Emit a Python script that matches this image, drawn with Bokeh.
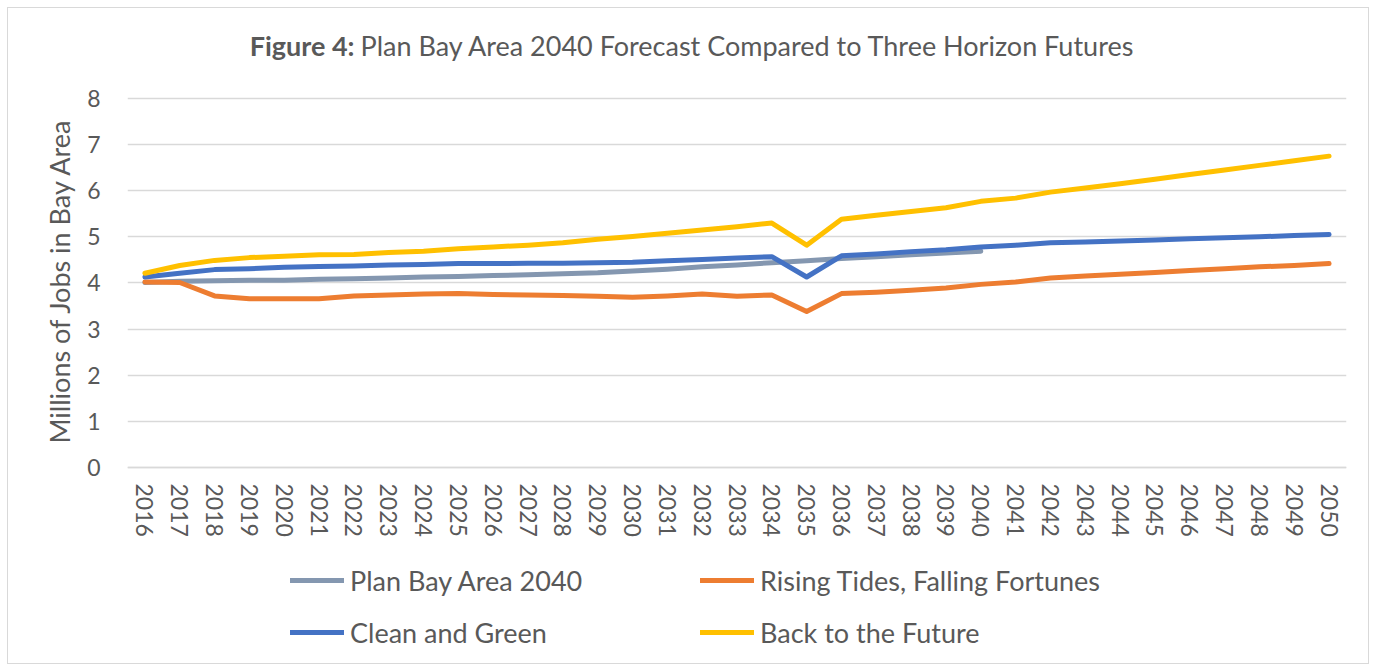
from bokeh.plotting import figure
from bokeh.models import Range1d, FactorRange, FixedTicker, Legend, LegendItem, Label, Title
from bokeh.embed import file_html
from bokeh.resources import INLINE

years = [str(y) for y in range(2016, 2051)]
plan_years = [str(y) for y in range(2016, 2041)]

plan_bay_area = [4.01, 4.04, 4.05, 4.06, 4.06, 4.08, 4.09, 4.11, 4.13, 4.14, 4.16, 4.18, 4.20,
                 4.22, 4.26, 4.30, 4.35, 4.39, 4.44, 4.48, 4.53, 4.57, 4.61, 4.65, 4.69]
rising_tides = [4.02, 4.01, 3.72, 3.66, 3.66, 3.66, 3.72, 3.74, 3.76, 3.77, 3.75, 3.74, 3.73,
                3.71, 3.69, 3.72, 3.76, 3.71, 3.74, 3.38, 3.77, 3.80, 3.84, 3.89, 3.97, 4.02,
                4.11, 4.15, 4.19, 4.23, 4.27, 4.31, 4.35, 4.38, 4.42]
clean_green = [4.13, 4.21, 4.29, 4.31, 4.34, 4.36, 4.37, 4.39, 4.40, 4.42, 4.42, 4.43, 4.43,
               4.44, 4.45, 4.48, 4.51, 4.54, 4.57, 4.13, 4.59, 4.63, 4.68, 4.72, 4.78, 4.82,
               4.87, 4.89, 4.91, 4.93, 4.96, 4.98, 5.00, 5.03, 5.05]
back_future = [4.21, 4.38, 4.49, 4.55, 4.58, 4.61, 4.62, 4.66, 4.69, 4.74, 4.78, 4.82, 4.87,
               4.95, 5.01, 5.08, 5.15, 5.22, 5.30, 4.82, 5.38, 5.47, 5.55, 5.63, 5.77, 5.84,
               5.97, 6.06, 6.15, 6.25, 6.35, 6.45, 6.55, 6.65, 6.75]
y_ticks = [0, 1, 2, 3, 4, 5, 6, 7, 8]

FONT = "Lato"
TXT = "#595959"
GRID = "#d9d9d9"

# The frame spans the whole figure height; the value axis 0..8 maps to the chart area,
# the rest of the frame holds the title (top) and the legend (bottom).
p = figure(width=1362, height=657, x_range=FactorRange(*years, range_padding=0),
           y_range=Range1d(-4.293, 9.951), output_backend="svg", toolbar_location=None, tools="",
           min_border_left=119, min_border_right=24, min_border_top=0, min_border_bottom=0)
p.title.visible = False
p.styles = {"border": "1px solid #d9d9d9", "margin-left": "7px", "margin-top": "7px"}
p.outline_line_color = None
p.background_fill_color = "white"
p.border_fill_color = "white"

kw = dict(line_width=5, line_cap="round", line_join="round")
r1 = p.line(plan_years, plan_bay_area, color="#8497B0", **kw)
r2 = p.line(years, rising_tides, color="#ED7D31", **kw)
r3 = p.line(years, clean_green, color="#4472C4", **kw)
r4 = p.line(years, back_future, color="#FFC000", **kw)

p.xgrid.grid_line_color = None
p.ygrid.grid_line_color = GRID
p.ygrid.grid_line_width = 1.5
p.yaxis.ticker = FixedTicker(ticks=y_ticks)

for ax in (p.xaxis[0], p.yaxis[0]):
    ax.major_tick_line_color = None
    ax.minor_tick_line_color = None
    ax.major_tick_out = 0
    ax.major_tick_in = 0
    ax.major_label_text_font = FONT
    ax.major_label_text_color = TXT
    ax.major_label_text_font_size = "23px"

p.yaxis.axis_line_color = None
p.yaxis.major_label_standoff = 27

p.xaxis.fixed_location = 0
p.xaxis.axis_line_color = GRID
p.xaxis.axis_line_width = 1.5
p.xaxis.major_label_orientation = "vertical"
p.xaxis.major_label_standoff = 16

# y-axis title, placed beside the 0..8 value band
p.add_layout(Title(text="Millions of Jobs in Bay Area", align="left", offset=222,
                   vertical_align="bottom", standoff=18, text_font=FONT,
                   text_font_size="27px", text_font_style="normal", text_color=TXT), "left")

# Chart title: bold "Figure 4:" followed by regular text
p.add_layout(Label(x=227, y=620, x_units="screen", y_units="screen", text="Figure 4:",
                   text_font=FONT, text_font_size="27px", text_font_style="bold",
                   text_color=TXT, text_align="right", text_baseline="middle"))
p.add_layout(Label(x=233, y=620, x_units="screen", y_units="screen",
                   text="Plan Bay Area 2040 Forecast Compared to Three Horizon Futures",
                   text_font=FONT, text_font_size="27px", text_color=TXT,
                   text_align="left", text_baseline="middle"))

def make_legend(items, x):
    lg = Legend(items=items, location=(x, 16), orientation="vertical",
                label_text_font=FONT, label_text_font_size="27px", label_text_color=TXT,
                glyph_width=54, glyph_height=34, label_height=34, label_standoff=6,
                spacing=18, padding=0, margin=0, border_line_color=None,
                background_fill_alpha=0)
    p.add_layout(lg, "center")

make_legend([LegendItem(label="Plan Bay Area 2040", renderers=[r1]),
             LegendItem(label="Clean and Green", renderers=[r3])], 163)
make_legend([LegendItem(label="Rising Tides, Falling Fortunes", renderers=[r2]),
             LegendItem(label="Back to the Future", renderers=[r4])], 573)

open("out.html", "w").write(file_html(p, INLINE))
